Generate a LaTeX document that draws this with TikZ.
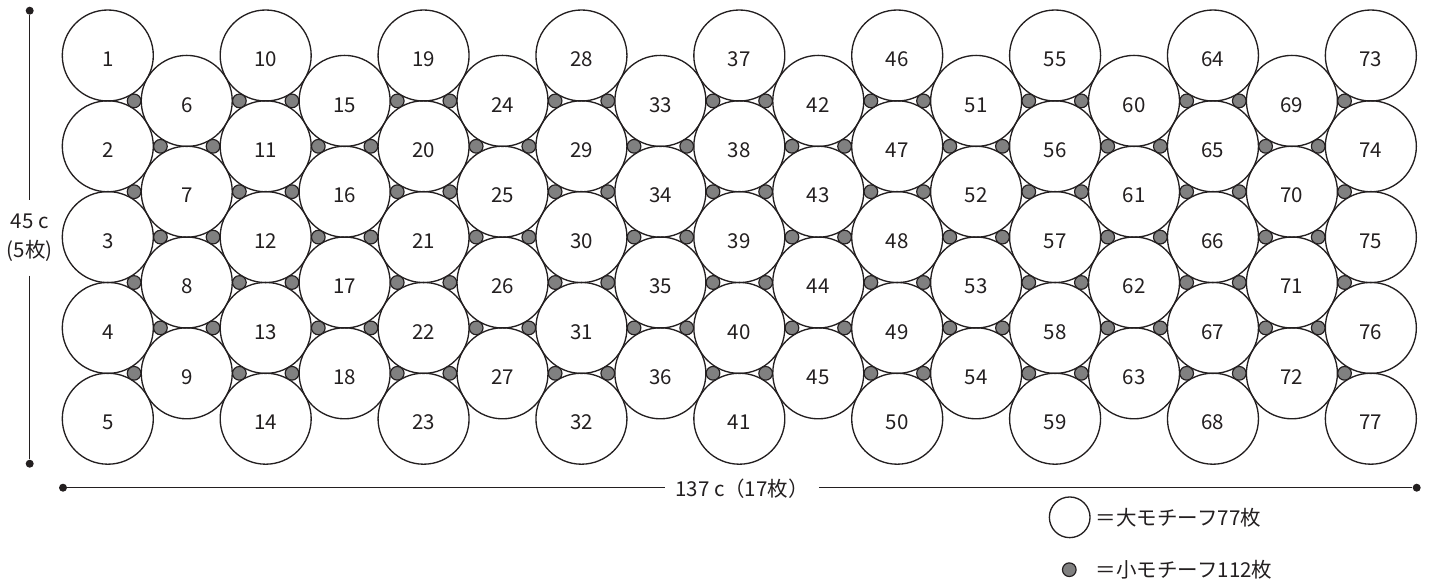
\documentclass[tikz,border=0pt]{standalone}
\usepackage{fontspec}
\setmainfont{Noto Sans CJK JP}
\usetikzlibrary{positioning}
\definecolor{cink}{HTML}{231F20}
\definecolor{cdot}{HTML}{808080}

\begin{document}
\begin{tikzpicture}[
  x=0.03cm, y=-0.03cm,
  bigmotif/.style={
    circle, draw=cink, line width=0.04cm, minimum size=2.73cm,
    inner sep=0pt, text=cink, text height=19pt, text depth=0pt,
    font=\fontsize{17.5}{21}\selectfont
  },
  smallmotif/.style={
    circle, draw=cink, fill=cdot, line width=0.035cm,
    minimum size=0.41cm, inner sep=0pt
  },
  dimdot/.style={circle, fill=cink, minimum size=0.24cm, inner sep=0pt},
  dimline/.style={draw=cink, line width=0.035cm},
  dimlabel/.style={
    text=cink, font=\fontsize{17.5}{25}\selectfont, align=center
  },
  legendtext/.style={
    text=cink, font=\fontsize{17.5}{21}\selectfont, inner sep=0pt
  }
]
\useasboundingbox (0,0) rectangle (1429,583);

% ============================================================
% Large motifs: 17 columns, 5 / 4 circles alternately
% ============================================================
\foreach \k in {1,...,17} {
  \pgfmathtruncatemacro{\colodd}{mod(\k,2)}
  \pgfmathtruncatemacro{\nrow}{\colodd==1 ? 5 : 4}
  \pgfmathtruncatemacro{\first}{\colodd==1 ? 9*(\k-1)/2+1 : 9*(\k-2)/2+6}
  \pgfmathsetmacro{\ytop}{\colodd==1 ? 55.5 : 100.9}
  \foreach \j in {1,...,\nrow} {
    \pgfmathtruncatemacro{\num}{\first+\j-1}
    \node[bigmotif] (m\num) at ({107.8+78.94*(\k-1)}, {\ytop+90.8*(\j-1)}) {\num};
  }
}

% ============================================================
% Small motifs: 7 in the gaps between each pair of columns
% ============================================================
\foreach \k in {1,...,16} {
  \pgfmathtruncatemacro{\colodd}{mod(\k,2)}
  \pgfmathsetmacro{\xfour}{\colodd==1 ? 107.8+78.94*(\k-1)+26.31 : 107.8+78.94*\k-26.31}
  \pgfmathsetmacro{\xthree}{\colodd==1 ? 107.8+78.94*\k-26.31 : 107.8+78.94*(\k-1)+26.31}
  \foreach \j in {1,...,4}
    \node[smallmotif] (p\k-\j) at (\xfour, {100.9+90.8*(\j-1)}) {};
  \foreach \j in {1,...,3}
    \node[smallmotif] (q\k-\j) at (\xthree, {146.3+90.8*(\j-1)}) {};
}

% ============================================================
% Dimension lines
% ============================================================
\node[dimdot] (vtop) at (29.7, 10.7) {};
\node[dimdot] (vbot) at (29.7, 463.7) {};
\node[dimlabel, inner xsep=0pt, inner ysep=0.4cm] (vlab) at (29.7, 238) {45 c\\(5枚)};
\draw[dimline] (vtop) -- (vlab.north);
\draw[dimline] (vlab.south) -- (vbot);

\node[dimdot] (hleft) at (63, 487.7) {};
\node[dimdot] (hright) at (1416.7, 487.7) {};
\node[dimlabel, inner xsep=0.3cm, inner ysep=0pt] (hlab) at (742, 489) {137 c（17枚）};
\draw[dimline] (hleft) -- (hlab.west |- hleft);
\draw[dimline] (hlab.east |- hright) -- (hright);

% ============================================================
% Legend
% ============================================================
\node[circle, draw=cink, line width=0.04cm, minimum size=1.22cm, inner sep=0pt]
  (lgbig) at (1069.7, 517.3) {};
\node[legendtext, anchor=west, right=0.15cm of lgbig] (lgbigtext) {＝大モチーフ77枚};
\node[smallmotif] (lgsmall) at (1069.3, 569.7) {};
\node[legendtext, anchor=west] (lgsmalltext) at (lgbigtext.west |- lgsmall) {＝小モチーフ112枚};

\end{tikzpicture}
\end{document}
